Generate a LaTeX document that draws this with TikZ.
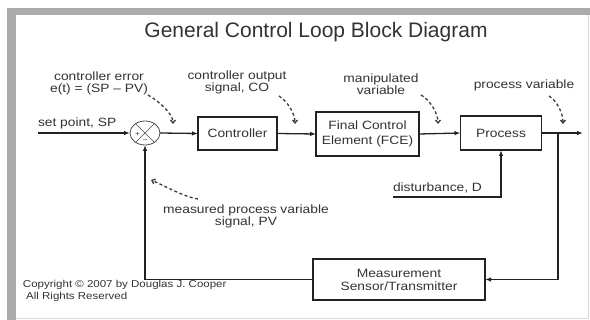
\documentclass[tikz,border=0pt]{standalone}
\usepackage{fontspec}
\setmainfont{Liberation Sans}[FakeStretch=1.15]
\newfontfamily\titlefont{Liberation Sans}
\usetikzlibrary{arrows.meta,shapes.geometric}
\definecolor{linec}{HTML}{222222}
\definecolor{txtc}{HTML}{333333}
\definecolor{dashc}{HTML}{3A3A3A}
\definecolor{framec}{HTML}{ABABAB}
\begin{document}
\begin{tikzpicture}[x=1pt,y=-1pt,
  every node/.style={text=txtc, inner sep=0pt, outer sep=0pt},
  lbl/.style={font=\fontsize{12}{12}\selectfont, align=center},
  box/.style={draw=linec, line width=1.4pt, fill=white, font=\fontsize{12}{13}\selectfont, align=center},
  conn/.style={draw=linec, line width=1.3pt, -{Latex[length=6pt,width=4.5pt]}},
  dsh/.style={draw=dashc, line width=1.3pt, dash pattern=on 3pt off 2.5pt, -{Straight Barb[length=3pt,width=5pt]}}]
\useasboundingbox (0,0) rectangle (590,320);
\fill[white] (0,0) rectangle (590,320);
% frame
\fill[framec] (7,8) rectangle (16,320);
\fill[framec] (7,8) rectangle (590,15);
\draw[gray!30, line width=1pt] (588,15) -- (588,318.5) -- (16,318.5);
% title
\node[font=\titlefont\fontsize{21}{21}\selectfont] (title) at (316,32) {General Control Loop Block Diagram};
% blocks
\node[draw=gray!60!black, line width=0.8pt, ellipse, minimum width=30pt, minimum height=24pt] (sum) at (145,133) {};
\draw[gray!60!black, line width=0.7pt] (sum.45) -- (sum.225) (sum.135) -- (sum.315);
\node[font=\fontsize{7}{7}\selectfont] (plus) at (137.5,134) {+};
\node[font=\fontsize{7}{7}\selectfont] (minus) at (145,140) {--};
\node[box, minimum width=79pt, minimum height=33pt] (ctrl) at (237.5,133.5) {Controller};
\node[box, minimum width=103pt, minimum height=44pt, font=\fontsize{12}{15}\selectfont] (fce) at (367.5,134) {Final Control\\Element (FCE)};
\node[box, minimum width=81pt, minimum height=34pt] (proc) at (501,133) {Process};
\node[box, minimum width=172pt, minimum height=41pt] (meas) at (399,279.5) {Measurement\\Sensor/Transmitter};
% coordinates
\coordinate (sp) at (38,133);
\coordinate (out) at (583,133);
\coordinate (br) at (558,133);
\coordinate (dist) at (393,197);
% connectors
\draw[conn] (sp) -- (sum.west);
\draw[conn] (sum.east) -- (ctrl.west);
\draw[conn] (ctrl.east) -- (fce.west);
\draw[conn] (fce.east) -- (proc.west);
\draw[conn] (proc.east) -- (out);
\draw[conn] (br) |- (meas.east);
\draw[conn] (meas.west) -| (sum.south);
\draw[conn] (dist) -| (proc.south);
% texts
\node[lbl, anchor=base west] (splbl) at (38,127) {set point, SP};
\node[lbl, anchor=base west] (dlbl) at (393,192) {disturbance, D};
\node[lbl] (errlbl) at (99,83) {controller error\\e(t) = (SP – PV)};
\node[lbl] (colbl) at (237,82) {controller output\\signal, CO};
\node[lbl] (mvlbl) at (381,84) {manipulated\\variable};
\node[lbl] (pvlbl) at (524,85) {process variable};
\node[lbl, font=\fontsize{12}{11}\selectfont] (mpvlbl) at (246,216) {measured process variable\\signal, PV};
\node[anchor=base west, align=left, font=\fontsize{10}{12}\selectfont] (copy) at (23,300) {Copyright © 2007 by Douglas J. Cooper\\\ All Rights Reserved};
% dashed pointers
\coordinate (d1s) at (148,95); \coordinate (d1e) at (173,124);
\coordinate (d2s) at (279,96); \coordinate (d2e) at (295,124);
\coordinate (d3s) at (421,95); \coordinate (d3e) at (438,124);
\coordinate (d4s) at (549,96); \coordinate (d4e) at (563,124);
\coordinate (d5s) at (198,199); \coordinate (d5e) at (151,180);
\draw[dsh] (d1s) .. controls +(9,5) and +(0,-11) .. (d1e);
\draw[dsh] (d2s) .. controls +(8,5) and +(0,-11) .. (d2e);
\draw[dsh] (d3s) .. controls +(9,5) and +(0,-11) .. (d3e);
\draw[dsh] (d4s) .. controls +(8,5) and +(0,-11) .. (d4e);
\draw[dsh] (d5s) .. controls +(-14,-2) and +(12,5) .. (d5e);
\end{tikzpicture}
\end{document}
